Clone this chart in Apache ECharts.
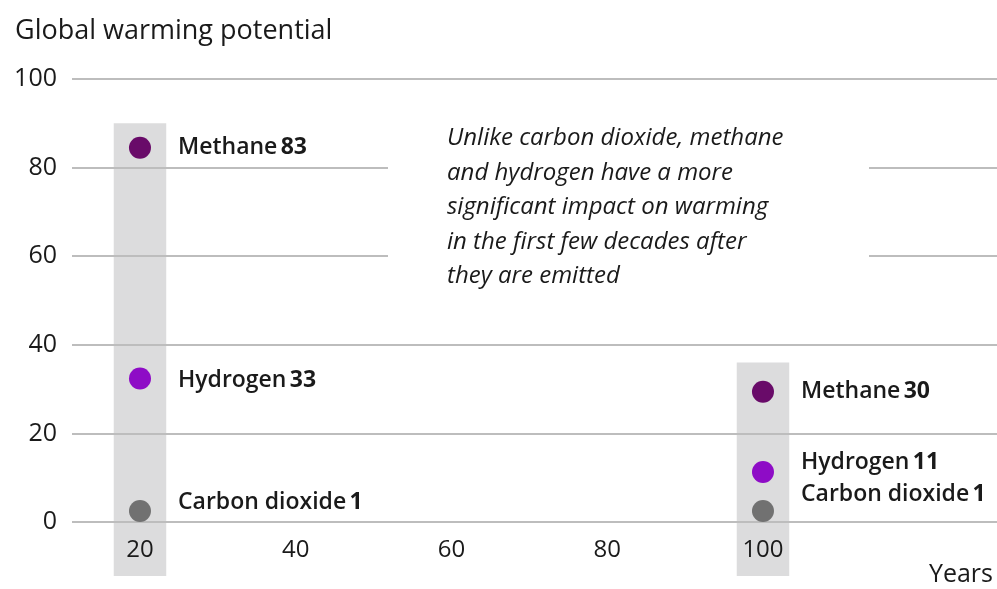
<!DOCTYPE html>
<html><head><meta charset="utf-8">
<script src="https://cdn.jsdelivr.net/npm/echarts@6/dist/echarts.min.js"></script>
<style>html,body{margin:0;padding:0;background:#fff}#c{width:997px;height:589px}</style>
</head><body><div id="c"></div>
<script>
// ---- data ----
const years = [20, 100];
const xTicks = [20, 40, 60, 80, 100];
const gasNames = ['Methane', 'Hydrogen', 'Carbon dioxide'];
const methaneGWP = [83, 30];
const hydrogenGWP = [33, 11];
const co2GWP = [1, 1];
// dot heights as drawn in the picture
const methaneDot = [84.5, 29.4];
const hydrogenDot = [32.4, 11.3];
const co2Dot = [2.5, 2.5];
// highlight bands: [year, top, bottom]
const bandYears = [20, 100];
const bandTop = [90, 36];
const bandBottom = [-12.2, -12.2];
const annotation = ['Unlike carbon dioxide, methane', 'and hydrogen have a more', 'significant impact on warming', 'in the first few decades after', 'they are emitted'];

const FONT = '"Open Sans", "Noto Sans", sans-serif';
const TXT = '#1a1a1a';
const colors = ['#690b69', '#8e0cc6', '#717171'];
const labelOffsets = [[[0, 0], [0, 0]], [[0, 2], [0, -9]], [[0, -8], [0, -16]]];
const dots = [methaneDot, hydrogenDot, co2Dot];
const vals = [methaneGWP, hydrogenGWP, co2GWP];

const chart = echarts.init(document.getElementById('c'), null, {renderer: 'canvas'});

const scatterSeries = gasNames.map((name, gi) => ({
  type: 'scatter',
  name: name,
  z: 3,
  symbolSize: 22,
  itemStyle: {color: colors[gi], opacity: 1},
  data: years.map((yr, i) => ({
    value: [yr, dots[gi][i]],
    label: {
      show: true,
      position: 'right',
      distance: 27,
      offset: labelOffsets[gi][i],
      formatter: '{n|' + name + '} {v|' + vals[gi][i] + '}',
      rich: {
        n: {fontFamily: FONT, fontSize: 23, fontWeight: 600, color: TXT},
        v: {fontFamily: FONT, fontSize: 23, fontWeight: 700, color: TXT}
      }
    }
  })),
  emphasis: {disabled: true}
}));

const bandSeries = {
  type: 'custom',
  z: -1,
  silent: true,
  clip: false,
  data: bandYears.map((yr, i) => [yr, bandTop[i], bandBottom[i]]),
  renderItem: function (params, api) {
    const half = 3.37;
    const p1 = api.coord([api.value(0) - half, api.value(1)]);
    const p2 = api.coord([api.value(0) + half, api.value(2)]);
    return {type: 'rect', shape: {x: p1[0], y: p1[1], width: p2[0] - p1[0], height: p2[1] - p1[1]},
      style: {fill: '#dcdcdd'}};
  }
};

chart.setOption({
  animation: false,
  backgroundColor: '#fff',
  title: {text: 'Global warming potential', left: 10, top: 13,
    textStyle: {fontFamily: FONT, fontSize: 27, fontWeight: 400, color: TXT}},
  grid: {left: 72, right: 0, top: 79, bottom: 67, containLabel: false},
  xAxis: {
    type: 'value', min: 11.27, max: 130.05,
    axisLine: {show: false}, axisTick: {show: false}, splitLine: {show: false},
    axisLabel: {customValues: xTicks, margin: 16, fontFamily: FONT, fontSize: 24, color: TXT}
  },
  yAxis: {
    type: 'value', min: 0, max: 100, interval: 20,
    axisLine: {show: false}, axisTick: {show: false},
    splitLine: {show: true, lineStyle: {color: '#bdbdbd', width: 2}},
    axisLabel: {margin: 15, fontFamily: FONT, fontSize: 25, color: TXT}
  },
  graphic: [
    {type: 'rect', z: 5, shape: {x: 388, y: 120, width: 481, height: 175}, style: {fill: '#fff'}},
    {type: 'text', z: 6, left: 447, top: 121,
      style: {text: annotation.join('\n'), fontFamily: FONT, fontStyle: 'italic', fontSize: 24, lineHeight: 34.5, fill: TXT}},
    {type: 'text', z: 6, right: 4, top: 562,
      style: {text: 'Years', fontFamily: FONT, fontSize: 25, fill: TXT}}
  ],
  series: [bandSeries].concat(scatterSeries)
});
</script></body></html>
